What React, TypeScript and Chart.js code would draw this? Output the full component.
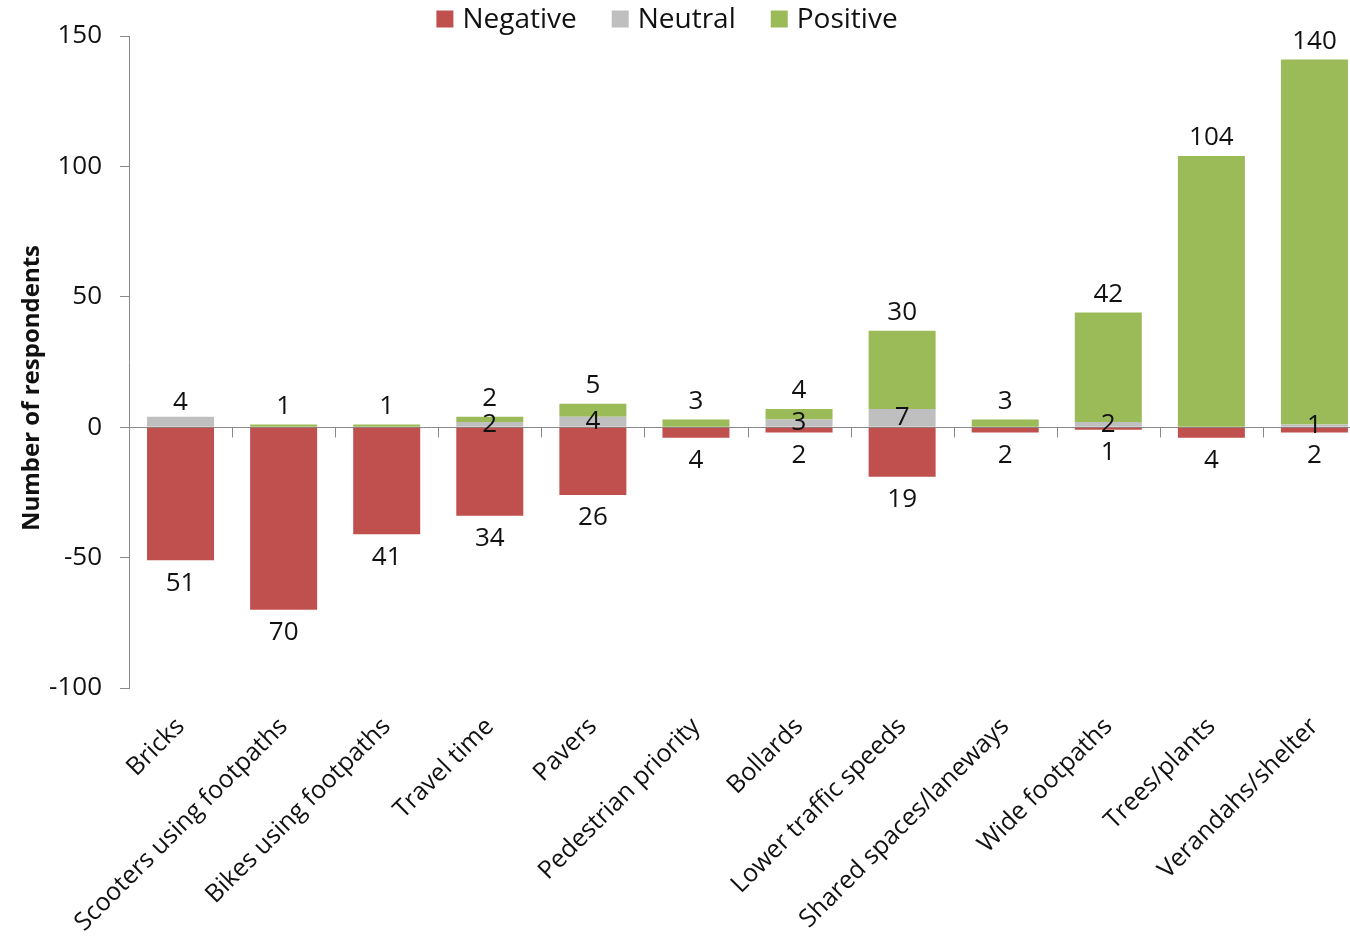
import React, { useEffect, useRef } from "react";
import { Chart, registerables } from "chart.js";

Chart.register(...registerables);

const FONT = "'Open Sans', sans-serif";

const categories = [
  "Bricks",
  "Scooters using footpaths",
  "Bikes using footpaths",
  "Travel time",
  "Pavers",
  "Pedestrian priority",
  "Bollards",
  "Lower traffic speeds",
  "Shared spaces/laneways",
  "Wide footpaths",
  "Trees/plants",
  "Verandahs/shelter",
];

const negative = [51, 70, 41, 34, 26, 4, 2, 19, 2, 1, 4, 2];
const neutral = [4, 0, 0, 2, 4, 0, 3, 7, 0, 2, 0, 1];
const positive = [0, 1, 1, 2, 5, 3, 4, 30, 3, 42, 104, 140];

const seriesNames = ["Negative", "Neutral", "Positive"];
const seriesColors = ["#C0504D", "#BFBFBF", "#9BBB59"];

const yMin = -100;
const yMax = 150;
const yStep = 50;
const axisTitle = "Number of respondents";

const AXIS_COLOR = "#8A8A8A";
const TEXT_COLOR = "#111111";

// Zero baseline with small tick marks between categories, drawn beneath the bars
const zeroLine = {
  id: "zeroLine",
  beforeDatasetsDraw(chart: any) {
    const { ctx, chartArea, scales } = chart;
    const y0 = Math.round(scales.y.getPixelForValue(0)) + 0.5;
    ctx.save();
    ctx.strokeStyle = AXIS_COLOR;
    ctx.lineWidth = 1;
    ctx.beginPath();
    ctx.moveTo(chartArea.left - 9, y0);
    ctx.lineTo(chartArea.right, y0);
    const n = categories.length;
    const step = (chartArea.right - chartArea.left) / n;
    for (let k = 1; k <= n; k++) {
      const x = Math.round(chartArea.left + k * step) + 0.5;
      ctx.moveTo(x, y0);
      ctx.lineTo(x, y0 + 10);
    }
    ctx.stroke();
    ctx.restore();
  },
};

// Value labels for each segment
const valueLabels = {
  id: "valueLabels",
  afterDatasetsDraw(chart: any) {
    const { ctx } = chart;
    ctx.save();
    ctx.font = `26px ${FONT}`;
    ctx.fillStyle = TEXT_COLOR;
    ctx.textAlign = "center";
    ctx.textBaseline = "middle";
    chart.data.datasets.forEach((ds: any, di: number) => {
      const meta = chart.getDatasetMeta(di);
      meta.data.forEach((bar: any, j: number) => {
        const v = ds.data[j] as number;
        if (!v) return;
        const { x, y, base } = bar.getProps(["x", "y", "base"], true);
        let ty: number;
        if (di === 0) ty = y + 23;
        else if (di === 2) ty = y - 18;
        else ty = positive[j] ? (y + base) / 2 : y - 14;
        ctx.fillText(String(Math.abs(v)), x, ty);
      });
    });
    ctx.restore();
  },
};

// Legend row across the top and the rotated y-axis title
const decorations = {
  id: "decorations",
  afterDraw(chart: any) {
    const { ctx } = chart;
    ctx.save();
    ctx.font = `28px ${FONT}`;
    ctx.textBaseline = "middle";
    ctx.textAlign = "left";
    const box = 17;
    const gapBoxText = 9;
    const gapItems = 35;
    const widths = seriesNames.map((s) => ctx.measureText(s).width);
    const total =
      widths.reduce((a, b) => a + b, 0) +
      seriesNames.length * (box + gapBoxText) +
      (seriesNames.length - 1) * gapItems;
    let x = 667 - total / 2;
    const cy = 19;
    seriesNames.forEach((name, i) => {
      ctx.fillStyle = seriesColors[i];
      ctx.fillRect(x, cy - box / 2, box, box);
      x += box + gapBoxText;
      ctx.fillStyle = TEXT_COLOR;
      ctx.fillText(name, x, cy + 1);
      x += widths[i] + gapItems;
    });

    ctx.font = `bold 24px ${FONT}`;
    ctx.textAlign = "center";
    ctx.translate(32, 388);
    ctx.rotate(-Math.PI / 2);
    ctx.fillText(axisTitle, 0, 0);
    ctx.restore();
  },
};

export default function App() {
  const canvasRef = useRef<HTMLCanvasElement | null>(null);

  useEffect(() => {
    const canvas = canvasRef.current;
    if (!canvas) return;
    const data = {
      labels: categories,
      datasets: [
        { label: seriesNames[0], data: negative.map((v) => -v), backgroundColor: seriesColors[0] },
        { label: seriesNames[1], data: neutral, backgroundColor: seriesColors[1] },
        { label: seriesNames[2], data: positive, backgroundColor: seriesColors[2] },
      ].map((d) => ({
        ...d,
        borderWidth: 0,
        barPercentage: 1,
        categoryPercentage: 0.65,
      })),
    };

    const chart = new Chart(canvas, {
      type: "bar",
      data,
      options: {
        animation: false,
        responsive: false,
        devicePixelRatio: 1,
        layout: { padding: { top: 36, left: 0, right: 0, bottom: 0 } },
        plugins: {
          legend: { display: false },
          tooltip: { enabled: false },
        },
        scales: {
          x: {
            stacked: true,
            grid: { display: false },
            border: { display: false },
            ticks: {
              autoSkip: false,
              maxRotation: 45,
              minRotation: 45,
              padding: 16,
              color: TEXT_COLOR,
              font: { family: FONT, size: 25 },
            },
            afterFit: (scale: any) => {
              scale.height = 250;
            },
          },
          y: {
            stacked: true,
            min: yMin,
            max: yMax,
            ticks: {
              stepSize: yStep,
              padding: 18,
              color: TEXT_COLOR,
              font: { family: FONT, size: 26 },
            },
            grid: {
              drawOnChartArea: false,
              drawTicks: true,
              tickLength: 9,
              color: AXIS_COLOR,
            },
            border: { display: true, color: AXIS_COLOR },
            afterFit: (scale: any) => {
              scale.width = 129;
            },
          },
        },
      },
      plugins: [zeroLine, valueLabels, decorations],
    });
    return () => chart.destroy();
  }, []);

  return (
    <div
      style={{
        position: "fixed",
        left: 0,
        top: 0,
        width: 1350,
        height: 938,
        overflow: "hidden",
        background: "#ffffff",
      }}
    >
      <canvas ref={canvasRef} width={1366} height={938} style={{ width: 1366, height: 938 }} />
    </div>
  );
}
